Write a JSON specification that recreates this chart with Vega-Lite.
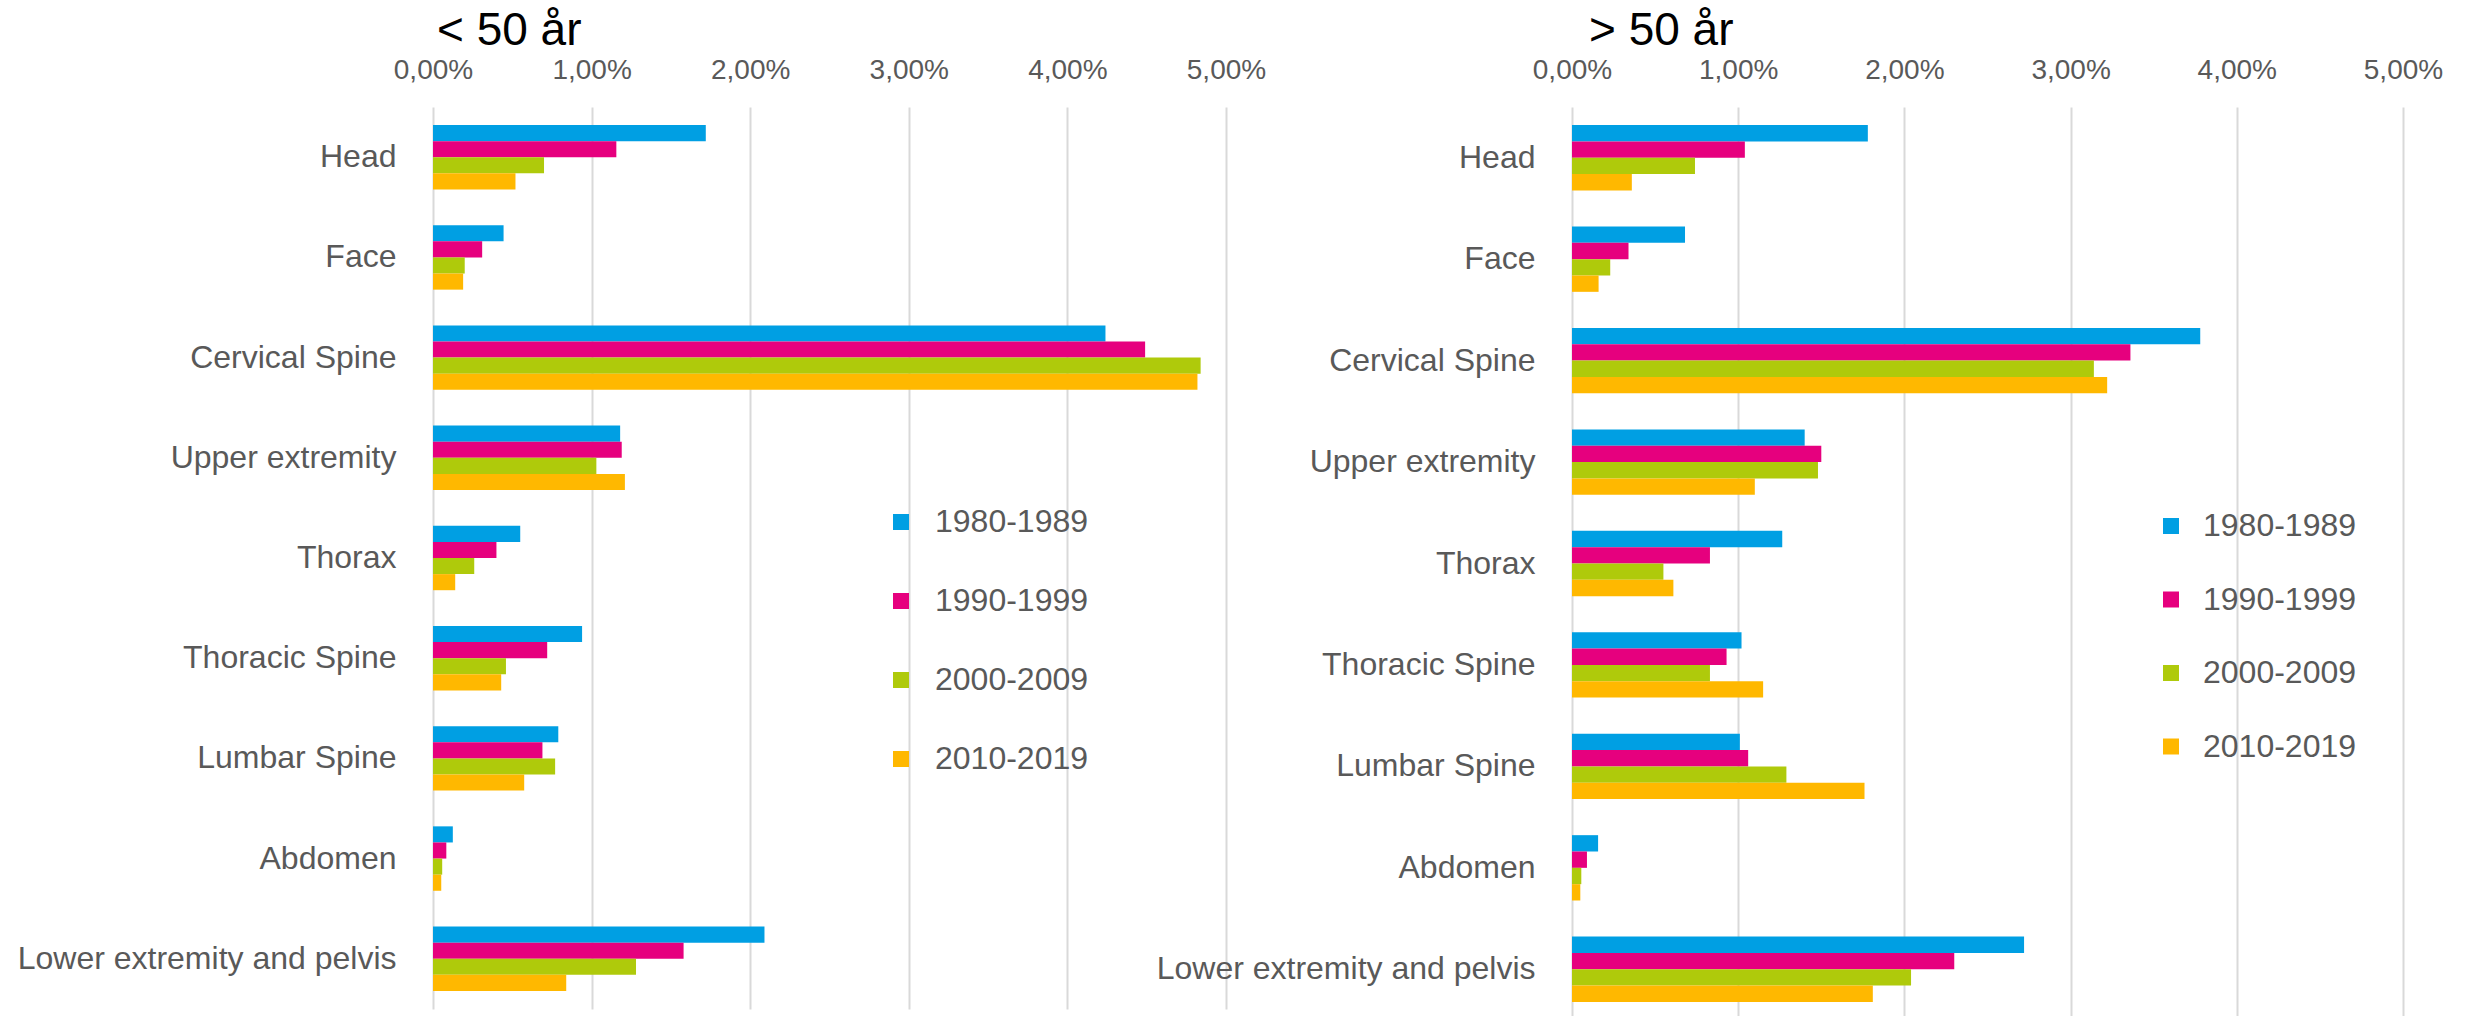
{
  "$schema": "https://vega.github.io/schema/vega-lite/v6.json",
  "padding": {"left": 17, "top": 8, "right": 0, "bottom": 0},
  "background": "white",
  "config": {"view": {"stroke": null}, "font": "Liberation Sans"},
  "datasets": {
    "young": [
      {"region": "Head", "period": "1980-1989", "value": 0.0172},
      {"region": "Head", "period": "1990-1999", "value": 0.01156},
      {"region": "Head", "period": "2000-2009", "value": 0.0070},
      {"region": "Head", "period": "2010-2019", "value": 0.0052},
      {"region": "Face", "period": "1980-1989", "value": 0.00445},
      {"region": "Face", "period": "1990-1999", "value": 0.0031},
      {"region": "Face", "period": "2000-2009", "value": 0.0020},
      {"region": "Face", "period": "2010-2019", "value": 0.0019},
      {"region": "Cervical Spine", "period": "1980-1989", "value": 0.0424},
      {"region": "Cervical Spine", "period": "1990-1999", "value": 0.0449},
      {"region": "Cervical Spine", "period": "2000-2009", "value": 0.0484},
      {"region": "Cervical Spine", "period": "2010-2019", "value": 0.0482},
      {"region": "Upper extremity", "period": "1980-1989", "value": 0.0118},
      {"region": "Upper extremity", "period": "1990-1999", "value": 0.0119},
      {"region": "Upper extremity", "period": "2000-2009", "value": 0.0103},
      {"region": "Upper extremity", "period": "2010-2019", "value": 0.0121},
      {"region": "Thorax", "period": "1980-1989", "value": 0.0055},
      {"region": "Thorax", "period": "1990-1999", "value": 0.0040},
      {"region": "Thorax", "period": "2000-2009", "value": 0.0026},
      {"region": "Thorax", "period": "2010-2019", "value": 0.0014},
      {"region": "Thoracic Spine", "period": "1980-1989", "value": 0.0094},
      {"region": "Thoracic Spine", "period": "1990-1999", "value": 0.0072},
      {"region": "Thoracic Spine", "period": "2000-2009", "value": 0.0046},
      {"region": "Thoracic Spine", "period": "2010-2019", "value": 0.0043},
      {"region": "Lumbar Spine", "period": "1980-1989", "value": 0.0079},
      {"region": "Lumbar Spine", "period": "1990-1999", "value": 0.0069},
      {"region": "Lumbar Spine", "period": "2000-2009", "value": 0.0077},
      {"region": "Lumbar Spine", "period": "2010-2019", "value": 0.00575},
      {"region": "Abdomen", "period": "1980-1989", "value": 0.00125},
      {"region": "Abdomen", "period": "1990-1999", "value": 0.00084},
      {"region": "Abdomen", "period": "2000-2009", "value": 0.00058},
      {"region": "Abdomen", "period": "2010-2019", "value": 0.00052},
      {"region": "Lower extremity and pelvis", "period": "1980-1989", "value": 0.0209},
      {"region": "Lower extremity and pelvis", "period": "1990-1999", "value": 0.0158},
      {"region": "Lower extremity and pelvis", "period": "2000-2009", "value": 0.0128},
      {"region": "Lower extremity and pelvis", "period": "2010-2019", "value": 0.0084}
    ],
    "old": [
      {"region": "Head", "period": "1980-1989", "value": 0.0178},
      {"region": "Head", "period": "1990-1999", "value": 0.0104},
      {"region": "Head", "period": "2000-2009", "value": 0.0074},
      {"region": "Head", "period": "2010-2019", "value": 0.0036},
      {"region": "Face", "period": "1980-1989", "value": 0.0068},
      {"region": "Face", "period": "1990-1999", "value": 0.0034},
      {"region": "Face", "period": "2000-2009", "value": 0.0023},
      {"region": "Face", "period": "2010-2019", "value": 0.0016},
      {"region": "Cervical Spine", "period": "1980-1989", "value": 0.0378},
      {"region": "Cervical Spine", "period": "1990-1999", "value": 0.0336},
      {"region": "Cervical Spine", "period": "2000-2009", "value": 0.0314},
      {"region": "Cervical Spine", "period": "2010-2019", "value": 0.0322},
      {"region": "Upper extremity", "period": "1980-1989", "value": 0.0140},
      {"region": "Upper extremity", "period": "1990-1999", "value": 0.0150},
      {"region": "Upper extremity", "period": "2000-2009", "value": 0.0148},
      {"region": "Upper extremity", "period": "2010-2019", "value": 0.0110},
      {"region": "Thorax", "period": "1980-1989", "value": 0.01265},
      {"region": "Thorax", "period": "1990-1999", "value": 0.0083},
      {"region": "Thorax", "period": "2000-2009", "value": 0.0055},
      {"region": "Thorax", "period": "2010-2019", "value": 0.0061},
      {"region": "Thoracic Spine", "period": "1980-1989", "value": 0.0102},
      {"region": "Thoracic Spine", "period": "1990-1999", "value": 0.0093},
      {"region": "Thoracic Spine", "period": "2000-2009", "value": 0.0083},
      {"region": "Thoracic Spine", "period": "2010-2019", "value": 0.0115},
      {"region": "Lumbar Spine", "period": "1980-1989", "value": 0.0101},
      {"region": "Lumbar Spine", "period": "1990-1999", "value": 0.0106},
      {"region": "Lumbar Spine", "period": "2000-2009", "value": 0.0129},
      {"region": "Lumbar Spine", "period": "2010-2019", "value": 0.0176},
      {"region": "Abdomen", "period": "1980-1989", "value": 0.00157},
      {"region": "Abdomen", "period": "1990-1999", "value": 0.0009},
      {"region": "Abdomen", "period": "2000-2009", "value": 0.00056},
      {"region": "Abdomen", "period": "2010-2019", "value": 0.0005},
      {"region": "Lower extremity and pelvis", "period": "1980-1989", "value": 0.0272},
      {"region": "Lower extremity and pelvis", "period": "1990-1999", "value": 0.0230},
      {"region": "Lower extremity and pelvis", "period": "2000-2009", "value": 0.0204},
      {"region": "Lower extremity and pelvis", "period": "2010-2019", "value": 0.0181}
    ]
  },
  "bounds": "flush",
  "spacing": 346,
  "resolve": {"scale": {"color": "independent", "y": "independent", "x": "independent", "yOffset": "independent"}, "legend": {"color": "independent"}},
  "hconcat": [
    {
      "data": {"name": "young"},
      "width": 793,
      "height": 902,
      "title": {"text": "< 50 år", "anchor": "start", "frame": "group", "fontSize": 46, "fontWeight": "normal", "color": "#000000", "font": "Liberation Sans", "offset": 1, "dx": 4},
      "mark": {"type": "bar"},
      "encoding": {
        "y": {
          "field": "region", "type": "nominal",
          "sort": ["Head", "Face", "Cervical Spine", "Upper extremity", "Thorax", "Thoracic Spine", "Lumbar Spine", "Abdomen", "Lower extremity and pelvis"],
          "scale": {"paddingInner": 0.357, "paddingOuter": 0.18},
          "axis": {"title": null, "domain": false, "ticks": false, "labelFontSize": 32, "labelColor": "#595959", "labelPadding": 37, "labelLimit": 600, "labelFont": "Liberation Sans"}
        },
        "yOffset": {"field": "period", "type": "nominal", "sort": ["1980-1989", "1990-1999", "2000-2009", "2010-2019"], "scale": {"paddingInner": 0, "paddingOuter": 0}},
        "x": {
          "field": "value", "type": "quantitative",
          "scale": {"domain": [0, 0.05], "nice": false},
          "axis": {"orient": "top", "values": [0, 0.01, 0.02, 0.03, 0.04, 0.05], "labelExpr": "replace(format(datum.value, '.2%'), '.', ',')", "labelFlush": false, "labelOverlap": false, "title": null, "domain": false, "ticks": false, "grid": true, "gridColor": "#D9D9D9", "gridWidth": 2, "labelFontSize": 28, "labelColor": "#595959", "labelPadding": 23, "labelFont": "Liberation Sans"}
        },
        "color": {
          "field": "period", "type": "nominal",
          "scale": {"domain": ["1980-1989", "1990-1999", "2000-2009", "2010-2019"], "range": ["#009FE3", "#E6007E", "#AFCA0B", "#FFB800"]},
          "legend": {"orient": "none", "direction": "vertical", "legendX": 452, "legendY": 399, "title": null, "symbolType": "square", "symbolSize": 256, "symbolStrokeWidth": 0, "labelFontSize": 32, "labelColor": "#595959", "labelFont": "Liberation Sans", "rowPadding": 47, "labelOffset": 18, "padding": 0}
        }
      }
    },
    {
      "data": {"name": "old"},
      "width": 831,
      "height": 913,
      "title": {"text": "> 50 år", "anchor": "start", "frame": "group", "fontSize": 46, "fontWeight": "normal", "color": "#000000", "font": "Liberation Sans", "offset": 1, "dx": 17},
      "mark": {"type": "bar"},
      "encoding": {
        "y": {
          "field": "region", "type": "nominal",
          "sort": ["Head", "Face", "Cervical Spine", "Upper extremity", "Thorax", "Thoracic Spine", "Lumbar Spine", "Abdomen", "Lower extremity and pelvis"],
          "scale": {"paddingInner": 0.356, "paddingOuter": 0.178},
          "axis": {"title": null, "domain": false, "ticks": false, "labelFontSize": 32, "labelColor": "#595959", "labelPadding": 37, "labelLimit": 600, "labelFont": "Liberation Sans"}
        },
        "yOffset": {"field": "period", "type": "nominal", "sort": ["1980-1989", "1990-1999", "2000-2009", "2010-2019"], "scale": {"paddingInner": 0, "paddingOuter": 0}},
        "x": {
          "field": "value", "type": "quantitative",
          "scale": {"domain": [0, 0.05], "nice": false},
          "axis": {"orient": "top", "values": [0, 0.01, 0.02, 0.03, 0.04, 0.05], "labelExpr": "replace(format(datum.value, '.2%'), '.', ',')", "labelFlush": false, "labelOverlap": false, "title": null, "domain": false, "ticks": false, "grid": true, "gridColor": "#D9D9D9", "gridWidth": 2, "labelFontSize": 28, "labelColor": "#595959", "labelPadding": 23, "labelFont": "Liberation Sans"}
        },
        "color": {
          "field": "period", "type": "nominal",
          "scale": {"domain": ["1980-1989", "1990-1999", "2000-2009", "2010-2019"], "range": ["#009FE3", "#E6007E", "#AFCA0B", "#FFB800"]},
          "legend": {"orient": "none", "direction": "vertical", "legendX": 583, "legendY": 403, "title": null, "symbolType": "square", "symbolSize": 256, "symbolStrokeWidth": 0, "labelFontSize": 32, "labelColor": "#595959", "labelFont": "Liberation Sans", "rowPadding": 41.5, "labelOffset": 16, "padding": 0}
        }
      }
    }
  ]
}
